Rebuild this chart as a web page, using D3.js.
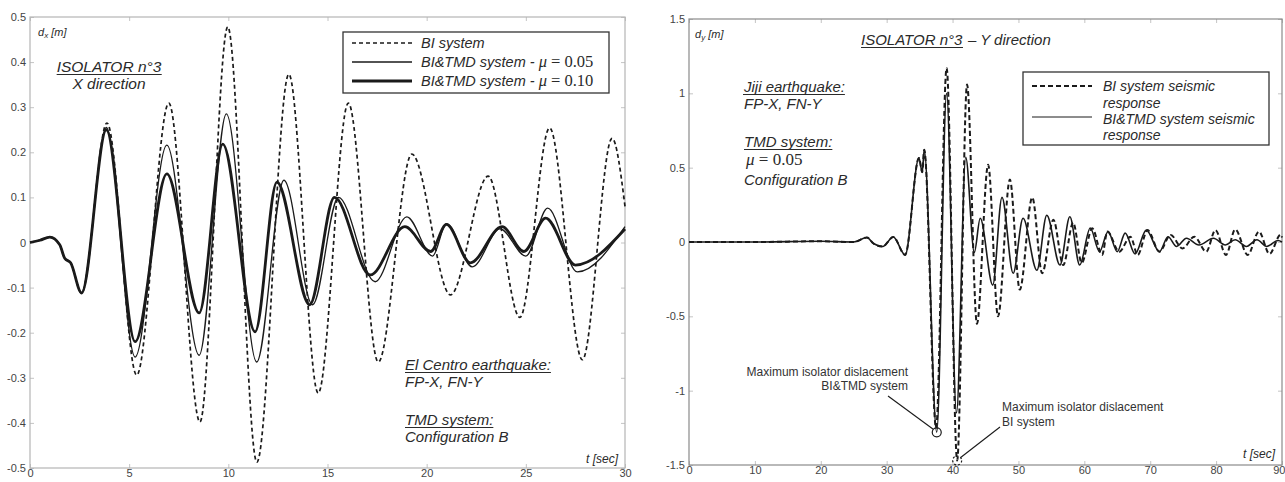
<!DOCTYPE html>
<html><head><meta charset="utf-8">
<script src="https://cdn.jsdelivr.net/npm/d3@7/dist/d3.min.js"></script>
<style>
body{margin:0;background:#fff;}
svg{display:block;font-family:"Liberation Sans",Arial,sans-serif;}
</style></head>
<body><svg id="c" width="1285" height="482"></svg>
<script>
// ---------- LEFT: Isolator n°3, X direction (El Centro) ----------
const xTicksL = [0,5,10,15,20,25,30];
const yTicksL = [-0.5,-0.4,-0.3,-0.2,-0.1,0,0.1,0.2,0.3,0.4,0.5];
const tBI_X  = [0,0.5,1.0,1.5,1.75,2.05,2.6,3.88,5.38,7.0,8.57,9.97,11.44,13.05,14.53,16.05,17.56,19.25,21.2,23.1,24.7,26.2,27.85,29.35,30];
const vBI_X  = [0,0.005,0.012,-0.005,-0.035,-0.045,-0.112,0.265,-0.294,0.309,-0.398,0.478,-0.487,0.373,-0.334,0.309,-0.265,0.196,-0.116,0.147,-0.166,0.254,-0.260,0.231,0.08];
const tMu05_X = [0,0.5,1.0,1.5,1.75,2.05,2.6,3.85,5.3,6.9,8.53,9.9,11.43,12.8,14.25,15.55,17.4,19.0,20.3,21.0,22.3,23.7,25.0,26.1,27.6,30];
const vMu05_X = [0,0.005,0.012,-0.005,-0.035,-0.045,-0.112,0.255,-0.254,0.216,-0.25,0.285,-0.265,0.138,-0.138,0.10,-0.087,0.057,-0.03,0.042,-0.054,0.03,-0.03,0.076,-0.065,0.035];
const tMu10_X = [0,0.5,1.0,1.5,1.75,2.05,2.6,3.85,5.3,6.9,8.53,9.72,11.35,12.45,14.1,15.35,17.15,18.9,20.2,21.0,22.2,23.8,24.9,26.0,27.5,30];
const vMu10_X = [0,0.005,0.012,-0.005,-0.035,-0.045,-0.112,0.25,-0.22,0.152,-0.156,0.218,-0.198,0.134,-0.138,0.10,-0.072,0.035,-0.02,0.04,-0.045,0.035,-0.02,0.054,-0.05,0.03];

// ---------- RIGHT: Isolator n°3, Y direction (Jiji) ----------
const xTicksR = [0,10,20,30,40,50,60,70,80,90];
const yTicksR = [-1.5,-1,-0.5,0,0.5,1,1.5];
const tBI_Y = [0,10,20,25,27,28,29.4,31,32.8,34.9,35.4,35.7,37.5,39.1,40.7,42.2,43.7,45.4,46.9,48.7,50.2,52.1,53.6,55.3,56.8,58.3,59.6,61.2,62.7,63.5,65.3,67.0,68.1,69.6,71.4,73.1,74.9,76.7,78.5,79.9,81.5,82.9,84.8,86.5,88.1,89.8,90];
const vBI_Y = [0,0,0.005,0,0.03,-0.01,-0.03,0.034,-0.087,0.565,0.47,0.62,-1.25,1.17,-1.47,1.06,-0.55,0.52,-0.50,0.42,-0.32,0.30,-0.21,0.15,-0.155,0.13,-0.14,0.092,-0.087,0.07,-0.065,0.036,-0.087,0.08,-0.065,0.047,-0.043,0.036,-0.065,0.08,-0.087,0.085,-0.087,0.07,-0.08,0.05,0.03];
const tTMD_Y = [0,10,20,25,27,28,29.4,31,32.8,34.9,35.4,35.7,37.6,39.1,40.6,42.0,43.3,44.2,46.1,47.5,49.2,50.7,52.8,54.3,56.3,57.8,59.3,60.9,62.3,63.6,65.0,66.2,67.7,69.4,71.4,72.7,74.0,75.5,77.4,79.6,81.4,82.9,84.6,86.2,87.7,89.4,90];
const vTMD_Y = [0,0,0.005,0,0.03,-0.01,-0.03,0.034,-0.087,0.565,0.47,0.62,-1.28,1.0,-1.15,0.57,-0.07,0.16,-0.29,0.30,-0.21,0.16,-0.19,0.18,-0.155,0.17,-0.155,0.094,-0.065,0.07,-0.065,0.06,-0.08,0.08,-0.065,0.035,-0.03,0.025,-0.02,0.025,-0.02,0.015,-0.03,0.015,-0.03,0.01,0.0];
const maxTMD = [37.6,-1.28];
const maxBI = [40.7,-1.47];

const svg = d3.select("#c");
const FONT = '"Liberation Sans",Arial,sans-serif';
const SERIF = '"Liberation Serif","Times New Roman",serif';
const INK = "#1a1a1a";

function pairs(t,v){return t.map((d,i)=>[d,v[i]]);}

function frame(x,y,xt,yt,fmt,frameCol){
  const [x0,x1]=x.range(), [y0,y1]=y.range();
  const g=svg.append("g");
  const ax=g.append("g").attr("transform",`translate(0,${y0})`).call(d3.axisBottom(x).tickValues(xt).tickSize(-4).tickPadding(1).tickFormat(d=>String(d)));
  g.append("g").attr("transform",`translate(${x0},0)`).call(d3.axisLeft(y).tickValues(yt).tickSize(-4).tickPadding(4).tickFormat(fmt));
  g.append("g").attr("transform",`translate(0,${y1})`).call(d3.axisTop(x).tickValues(xt).tickSize(-4).tickFormat(""));
  g.append("g").attr("transform",`translate(${x1},0)`).call(d3.axisRight(y).tickValues(yt).tickSize(-4).tickFormat(""));
  g.selectAll(".domain").remove();
  g.selectAll(".tick line").attr("stroke","#c4c4c4");
  g.selectAll(".tick text").attr("fill","#444").style("font-family",FONT).style("font-size","11px");
  // keep the last x label inside the page
  ax.selectAll(".tick text").filter(d=>x(d)+8>1285).attr("text-anchor","end").attr("x",1285-x(xt[xt.length-1]));
  g.append("rect").attr("x",x0).attr("y",y1).attr("width",x1-x0).attr("height",y0-y1)
    .attr("fill","none").attr("stroke",frameCol).attr("stroke-width",1.2);
  return g;
}

function txt(x,y,s,opt={}){
  const t=svg.append("text").attr("x",x).attr("y",y)
    .style("font-family",opt.family||FONT).style("font-size",(opt.size||15)+"px")
    .style("font-style",opt.italic===false?"normal":"italic")
    .attr("fill",opt.fill||"#2a2a2a").attr("text-anchor",opt.anchor||"start").text(s);
  if(opt.underline){
    const b=t.node().getBBox();
    svg.append("line").attr("x1",b.x).attr("x2",b.x+b.width).attr("y1",y+2.5).attr("y2",y+2.5)
      .attr("stroke",opt.fill||"#2a2a2a").attr("stroke-width",1.1);
  }
  return t;
}
function muText(x,y,prefix,val,size){
  const t=svg.append("text").attr("x",x).attr("y",y).attr("fill","#2a2a2a");
  if(prefix) t.append("tspan").style("font-family",FONT).style("font-style","italic").style("font-size",size+"px").text(prefix);
  t.append("tspan").style("font-family",SERIF).style("font-style","italic").style("font-size",(size+2)+"px").text("\u03bc");
  t.append("tspan").style("font-family",SERIF).style("font-style","normal").style("font-size",(size+2)+"px").text(" = "+val);
  return t;
}

// ===== LEFT PANEL =====
const xL=d3.scaleLinear([0,30],[30,625]);
const yL=d3.scaleLinear([-0.5,0.5],[468,17]);
frame(xL,yL,xTicksL,yTicksL,d=>d===0?"0":d.toFixed(1),"#b5b5b5");
const lineL=d3.line().x(d=>xL(d[0])).y(d=>yL(d[1])).curve(d3.curveMonotoneX);
svg.append("path").attr("d",lineL(pairs(tBI_X,vBI_X))).attr("fill","none").attr("stroke",INK).attr("stroke-width",1.7).attr("stroke-dasharray","4,3");
svg.append("path").attr("d",lineL(pairs(tMu05_X,vMu05_X))).attr("fill","none").attr("stroke",INK).attr("stroke-width",1.3);
svg.append("path").attr("d",lineL(pairs(tMu10_X,vMu10_X))).attr("fill","none").attr("stroke",INK).attr("stroke-width",2.8);

// labels left
const dx=txt(38,36,"d",{size:11});
dx.append("tspan").attr("dy",2).style("font-size","8px").text("x");
dx.append("tspan").attr("dy",-2).text(" [m]");
txt(109,72,"ISOLATOR n°3",{anchor:"middle",underline:true,size:15.5});
txt(109,89,"X direction",{anchor:"middle",size:15.5});
txt(405,370,"El Centro earthquake:",{underline:true});
txt(405,387,"FP-X, FN-Y");
txt(405,425,"TMD system:",{underline:true});
txt(405,442,"Configuration B");
txt(618,463,"t [sec]",{size:12,anchor:"end"});

// legend left
svg.append("rect").attr("x",343).attr("y",32).attr("width",266).attr("height",61).attr("fill","#fff").attr("stroke","#333").attr("stroke-width",1.3);
const legL=[{y:43,w:1.7,dash:"4,3",lab:"BI system",mu:null},{y:62,w:1.3,dash:null,lab:"BI&TMD system - ",mu:"0.05"},{y:81,w:2.8,dash:null,lab:"BI&TMD system - ",mu:"0.10"}];
legL.forEach(d=>{
  svg.append("line").attr("x1",352).attr("x2",412).attr("y1",d.y).attr("y2",d.y).attr("stroke",INK).attr("stroke-width",d.w).attr("stroke-dasharray",d.dash);
  if(d.mu) muText(421,d.y+5,d.lab,d.mu,14.5);
  else txt(421,d.y+5,d.lab,{size:14.5});
});

// ===== RIGHT PANEL =====
const xR=d3.scaleLinear([0,90],[689,1282]);
const yR=d3.scaleLinear([-1.5,1.5],[465,19]);
frame(xR,yR,xTicksR,yTicksR,d=>String(d),"#8a8a8a");
const lineR=d3.line().x(d=>xR(d[0])).y(d=>yR(d[1])).curve(d3.curveMonotoneX);
svg.append("path").attr("d",lineR(pairs(tBI_Y,vBI_Y))).attr("fill","none").attr("stroke",INK).attr("stroke-width",2).attr("stroke-dasharray","5,3");
svg.append("path").attr("d",lineR(pairs(tTMD_Y,vTMD_Y))).attr("fill","none").attr("stroke",INK).attr("stroke-width",1.6);

const dy=txt(695,38,"d",{size:11});
dy.append("tspan").attr("dy",2).style("font-size","8px").text("y");
dy.append("tspan").attr("dy",-2).text(" [m]");
const ttl=txt(861,45,"ISOLATOR n°3",{underline:true});
const tb=ttl.node().getBBox();
txt(tb.x+tb.width+5,45,"\u2013 Y direction");
txt(744,92,"Jiji earthquake:",{underline:true});
txt(744,109,"FP-X, FN-Y");
txt(744,147,"TMD system:",{underline:true});
muText(746,165,null,"0.05",15);
txt(744,185,"Configuration B");
txt(1275,458,"t [sec]",{size:12,anchor:"end"});

// legend right
svg.append("rect").attr("x",1023).attr("y",72).attr("width",246).attr("height",73).attr("fill","#fff").attr("stroke","#333").attr("stroke-width",1.3);
svg.append("line").attr("x1",1032).attr("x2",1092).attr("y1",86).attr("y2",86).attr("stroke",INK).attr("stroke-width",2).attr("stroke-dasharray","5,3");
svg.append("line").attr("x1",1032).attr("x2",1092).attr("y1",117).attr("y2",117).attr("stroke",INK).attr("stroke-width",1);
txt(1103,91,"BI system seismic",{size:14});
txt(1103,108,"response",{size:14});
txt(1103,124,"BI&TMD system seismic",{size:14});
txt(1103,140,"response",{size:14});

// annotations
svg.append("circle").attr("cx",xR(maxTMD[0])).attr("cy",yR(maxTMD[1])).attr("r",4.5).attr("fill","none").attr("stroke",INK).attr("stroke-width",1.2);
svg.append("line").attr("x1",888).attr("y1",396).attr("x2",xR(maxTMD[0])-3.5).attr("y2",yR(maxTMD[1])-3).attr("stroke",INK).attr("stroke-width",1.1);
txt(908,376,"Maximum isolator dislacement",{size:12,italic:false,anchor:"end",fill:"#333"});
txt(908,390,"BI&TMD system",{size:12,italic:false,anchor:"end",fill:"#333"});
svg.append("circle").attr("cx",xR(maxBI[0])).attr("cy",yR(maxBI[1])).attr("r",4.5).attr("fill","none").attr("stroke",INK).attr("stroke-width",1.2).attr("stroke-dasharray","2,2");
svg.append("line").attr("x1",1000).attr("y1",427).attr("x2",xR(maxBI[0])+3.5).attr("y2",yR(maxBI[1])-3).attr("stroke",INK).attr("stroke-width",1.1);
txt(1002,411,"Maximum isolator dislacement",{size:12,italic:false,fill:"#333"});
txt(1002,426,"BI system",{size:12,italic:false,fill:"#333"});
</script></body></html>
